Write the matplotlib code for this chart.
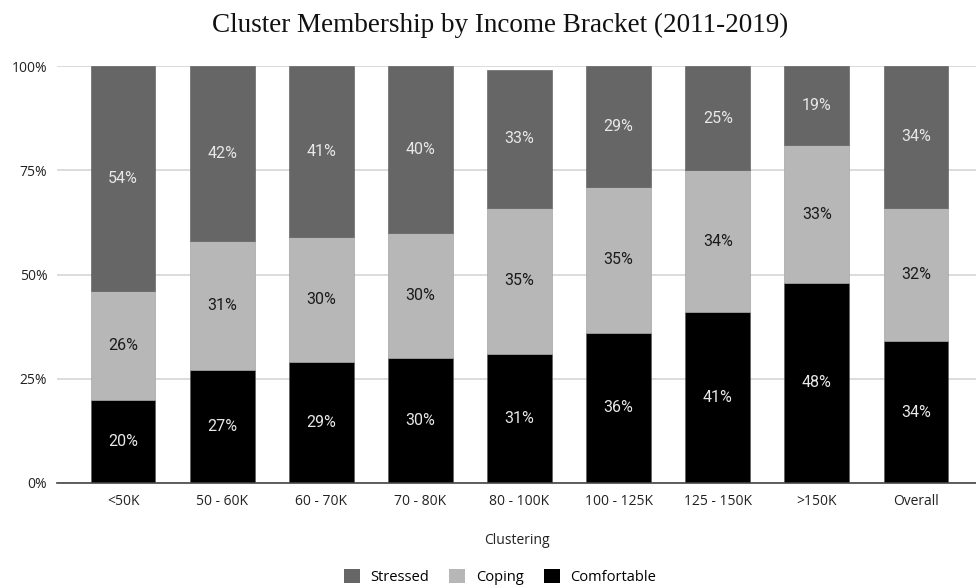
import matplotlib
matplotlib.use("Agg")
import matplotlib.pyplot as plt
import numpy as np
from matplotlib.patches import Patch
from matplotlib.ticker import FixedLocator

categories = ["<50K", "50 - 60K", "60 - 70K", "70 - 80K", "80 - 100K",
              "100 - 125K", "125 - 150K", ">150K", "Overall"]
comfortable = [20, 27, 29, 30, 31, 36, 41, 48, 34]
coping = [26, 31, 30, 30, 35, 35, 34, 33, 32]
stressed = [54, 42, 41, 40, 33, 29, 25, 19, 34]
y_ticks = [0, 25, 50, 75, 100]

c_stressed = "#666666"
c_coping = "#b7b7b7"
c_comf = "#000000"

sans = ["Open Sans", "DejaVu Sans"]
label_font = ["Roboto", "DejaVu Sans"]

fig = plt.figure(figsize=(9.76, 5.85), dpi=100)
ax = fig.add_axes([57 / 976, 1 - 483 / 585, (976 - 57) / 976, (483 - 66) / 585])

x = np.arange(len(categories))
w = 0.655
comf = np.array(comfortable, float)
cop = np.array(coping, float)
stre = np.array(stressed, float)

ax.bar(x, comf, w, color=c_comf, edgecolor="#555555", linewidth=0.4, zorder=3)
ax.bar(x, cop, w, bottom=comf, color=c_coping, edgecolor="#999999", linewidth=0.4, zorder=3)
ax.bar(x, stre, w, bottom=comf + cop, color=c_stressed, edgecolor="#555555", linewidth=0.4, zorder=3)

for i in range(len(categories)):
    ax.text(x[i], comf[i] / 2, f"{comfortable[i]}%", ha="center", va="center",
            color="#e8e8e8", fontsize=11.5, family=label_font, zorder=4)
    ax.text(x[i], comf[i] + cop[i] / 2, f"{coping[i]}%", ha="center", va="center",
            color="#1a1a1a", fontsize=11.5, family=label_font, zorder=4)
    ax.text(x[i], comf[i] + cop[i] + stre[i] / 2, f"{stressed[i]}%", ha="center", va="center",
            color="#e8e8e8", fontsize=11.5, family=label_font, zorder=4)

ax.set_xlim(-0.666, 8.605)
ax.set_ylim(0, 100)
ax.yaxis.set_major_locator(FixedLocator(y_ticks))
ax.set_yticklabels([f"{t}%" for t in y_ticks], family=sans, fontsize=10, color="#222222")
ax.set_xticks(x)
ax.set_xticklabels(categories, family=sans, fontsize=10, color="#222222")
ax.tick_params(axis="both", length=0)
ax.tick_params(axis="x", pad=8)
ax.tick_params(axis="y", pad=7)
ax.grid(axis="y", color="#d6d6d6", linewidth=1.2, zorder=0)
for s in ["top", "right", "left"]:
    ax.spines[s].set_visible(False)
ax.spines["bottom"].set_color("#444444")
ax.spines["bottom"].set_linewidth(1.2)
ax.spines["bottom"].set_zorder(5)

ax.set_xlabel("Clustering", family=sans, fontsize=10, color="#222222", labelpad=17)

fig.text(500 / 976, 1 - 25 / 585, "Cluster Membership by Income Bracket (2011-2019)",
         ha="center", va="center", family=["Liberation Serif", "DejaVu Serif"],
         fontsize=19.5, color="#111111")

handles = [Patch(facecolor=c_stressed, edgecolor="none"),
           Patch(facecolor=c_coping, edgecolor="none"),
           Patch(facecolor=c_comf, edgecolor="none")]
fig.legend(handles, ["Stressed", "Coping", "Comfortable"], loc="center",
           bbox_to_anchor=(500 / 976, 1 - 577 / 585), ncol=3, frameon=False,
           handlelength=1.1, handleheight=1.1, handletextpad=0.7, columnspacing=1.4,
           prop={"family": sans, "size": 10.5})

fig.savefig("out.png", dpi=100)
